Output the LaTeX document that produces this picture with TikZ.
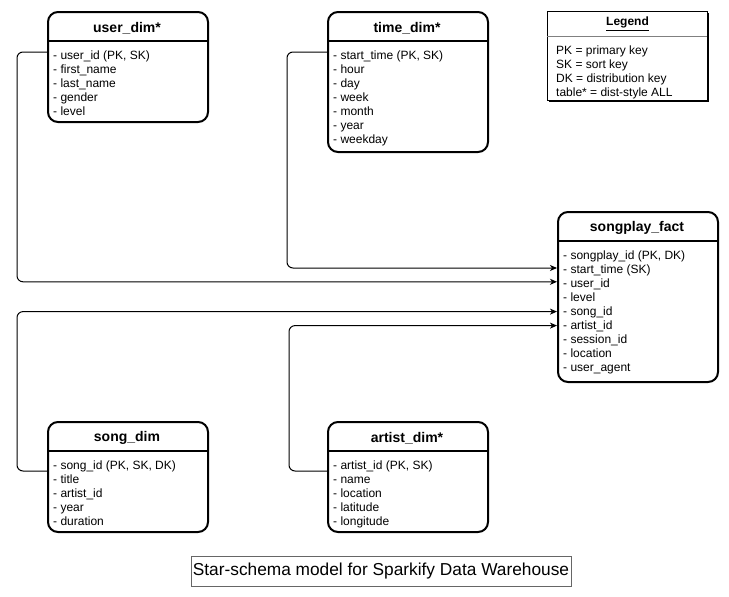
\documentclass[tikz,border=0pt]{standalone}
\usepackage{fontspec}
\setmainfont{Liberation Sans}
\usetikzlibrary{arrows.meta,calc}
\begin{document}
\begin{tikzpicture}[x=1pt,y=-1pt,
  tbl/.style={draw,line width=2pt,rounded corners=10pt,minimum width=160pt,inner sep=0pt,anchor=north west},
  hdr/.style={inner sep=0pt,yshift=-1.8pt,font=\fontsize{14}{16}\selectfont\bfseries},
  rowtxt/.style={anchor=west,inner sep=0pt,yshift=-1.8pt,font=\fontsize{12}{14}\selectfont,text height=9pt,text depth=3pt},
  divider/.style={line width=2pt},
  link/.style={draw,line width=1pt,rounded corners=6pt,-{Stealth[length=7pt,width=6pt,inset=2pt]}}
]
\useasboundingbox (0,0) rectangle (729,597);

% ---------- user_dim ----------
\node[tbl,minimum height=110pt] (user) at (47,11) {};
\node[hdr] (user-h) at (127,26) {user\_dim*};
\draw[divider] (47,41) -- (207,41);
\foreach \t [count=\i] in {{- user\_id (PK, SK)},{- first\_name},{- last\_name},{- gender},{- level}}
  \node[rowtxt] (user-\i) at (53,{55+14*(\i-1)}) {\t};

% ---------- time_dim ----------
\node[tbl,minimum height=140pt] (time) at (327,11) {};
\node[hdr] (time-h) at (407,26) {time\_dim*};
\draw[divider] (327,41) -- (487,41);
\foreach \t [count=\i] in {{- start\_time (PK, SK)},{- hour},{- day},{- week},{- month},{- year},{- weekday}}
  \node[rowtxt] (time-\i) at (333,{55+14*(\i-1)}) {\t};

% ---------- songplay_fact ----------
\node[tbl,minimum height=170pt] (fact) at (557,211) {};
\node[hdr] (fact-h) at (637,226) {songplay\_fact};
\draw[divider] (557,241) -- (717,241);
\foreach \t [count=\i] in {{- songplay\_id (PK, DK)},{- start\_time (SK)},{- user\_id},{- level},{- song\_id},{- artist\_id},{- session\_id},{- location},{- user\_agent}}
  \node[rowtxt] (fact-\i) at (563,{255+14*(\i-1)}) {\t};

% ---------- song_dim ----------
\node[tbl,minimum height=110pt] (song) at (47,421) {};
\node[hdr] (song-h) at (127,436) {song\_dim};
\draw[divider] (47,451) -- (207,451);
\foreach \t [count=\i] in {{- song\_id (PK, SK, DK)},{- title},{- artist\_id},{- year},{- duration}}
  \node[rowtxt] (song-\i) at (53,{465+14*(\i-1)}) {\t};

% ---------- artist_dim ----------
\node[tbl,minimum height=110pt] (artist) at (327,421) {};
\node[hdr] (artist-h) at (407,436) {artist\_dim*};
\draw[divider] (327,451) -- (487,451);
\foreach \t [count=\i] in {{- artist\_id (PK, SK)},{- name},{- location},{- latitude},{- longitude}}
  \node[rowtxt] (artist-\i) at (333,{465+14*(\i-1)}) {\t};

% ---------- legend ----------
\fill[black] (548.5,12.5) rectangle (708.5,101.5);
\node[draw,fill=white,line width=1pt,minimum width=160pt,minimum height=89pt,inner sep=0pt,anchor=north west] (legend) at (547,11) {};
\node[inner sep=0pt,yshift=-1.8pt,font=\fontsize{12}{14}\selectfont\bfseries] (legend-h) at (627.5,22) {\underline{Legend}};
\draw[line width=0.6pt,gray] (547,36) -- (707,36);
\foreach \t [count=\i] in {{PK = primary key},{SK = sort key},{DK = distribution key},{table* = dist-style ALL}}
  \node[rowtxt] (legend-\i) at (556,{50+14*(\i-1)}) {\t};

% ---------- caption ----------
\node[draw=black!60,line width=1pt,minimum width=380pt,minimum height=30pt,inner sep=0pt,font=\fontsize{17.3}{20}\selectfont] (caption) at (381,571) {Star-schema model for Sparkify Data Warehouse};

% ---------- connectors ----------
\coordinate (user-src) at ($(user.north west)+(0,41)$);
\coordinate (time-src) at ($(time.north west)+(0,41)$);
\coordinate (song-src) at ($(song.north west)+(0,50)$);
\coordinate (artist-src) at ($(artist.north west)+(0,50)$);

\draw[link] (time-src) -- ++(-40,0) |- ($(fact.west |- fact-2)+(0,-2.8)$);
\draw[link] (user-src) -- ++(-30,0) |- ($(fact.west |- fact-3)+(0,-3)$);
\draw[link] (song-src) -- ++(-30,0) |- ($(fact.west |- fact-5)+(0,-1.2)$);
\draw[link] (artist-src) -- ++(-38,0) |- ($(fact.west |- fact-6)+(0,-1.2)$);
\end{tikzpicture}
\end{document}
